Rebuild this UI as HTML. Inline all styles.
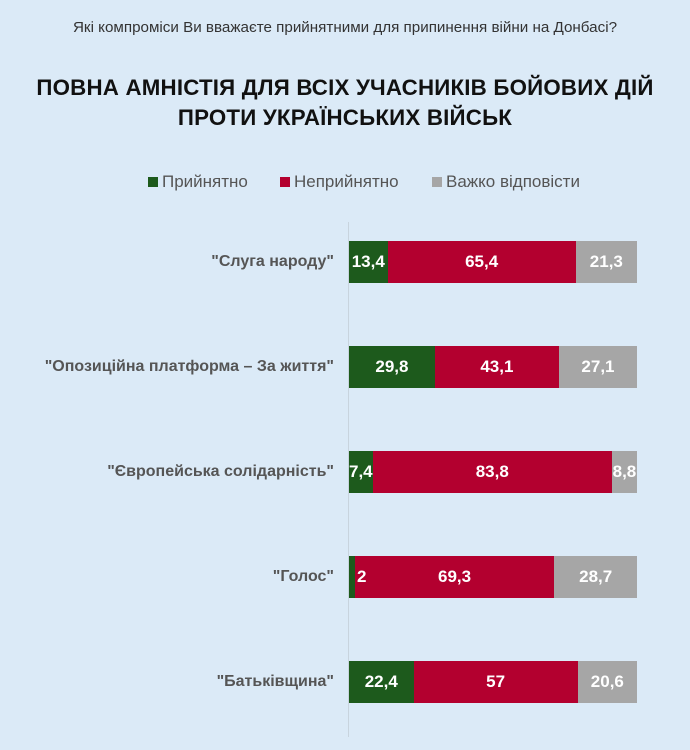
<!DOCTYPE html><html><head><meta charset="utf-8"><style>
body{margin:0;width:690px;height:750px;background:#dbeaf7;font-family:"Liberation Sans",sans-serif;position:relative;overflow:hidden}
.a{position:absolute}
.sub{top:19px;left:0;width:690px;text-align:center;font-size:15.2px;color:#333}
.t{top:73px;left:0;width:690px;text-align:center;font-size:22.3px;font-weight:bold;color:#111;line-height:30px;letter-spacing:0.2px}
.leg{top:172px;font-size:17px;color:#555}
.sq{display:inline-block;width:10px;height:10px;margin-right:4px}
.ax{left:348px;top:222px;width:1px;height:515px;background:#c8d4de}
.bar{left:349px;width:288px;height:42px;display:flex}
.bar div{color:#fff;font-weight:bold;font-size:17px;display:flex;align-items:center;justify-content:center;overflow:visible;white-space:nowrap}
.g{background:#1d5a1c}.r{background:#b3002f}.y{background:#a6a6a6}
.lab{right:356px;font-size:16px;font-weight:bold;color:#555;line-height:42px;white-space:nowrap}
</style></head><body>
<div class="a sub">Які компроміси Ви вважаєте прийнятними для припинення війни на Донбасі?</div>
<div class="a t">ПОВНА АМНІСТІЯ ДЛЯ ВСІХ УЧАСНИКІВ БОЙОВИХ ДІЙ<br>ПРОТИ УКРАЇНСЬКИХ ВІЙСЬК</div>
<div class="a leg" style="left:148px"><span class="sq g"></span>Прийнятно</div>
<div class="a leg" style="left:280px"><span class="sq r"></span>Неприйнятно</div>
<div class="a leg" style="left:432px"><span class="sq y"></span>Важко відповісти</div>
<div class="a ax"></div>

<div class="a lab" style="top:241px">"Слуга народу"</div>
<div class="a bar" style="top:241px"><div class="g" style="flex:13.4">13,4</div><div class="r" style="flex:65.4">65,4</div><div class="y" style="flex:21.3">21,3</div></div>

<div class="a lab" style="top:346px">"Опозиційна платформа – За життя"</div>
<div class="a bar" style="top:346px"><div class="g" style="flex:29.8">29,8</div><div class="r" style="flex:43.1">43,1</div><div class="y" style="flex:27.1">27,1</div></div>

<div class="a lab" style="top:451px">"Європейська солідарність"</div>
<div class="a bar" style="top:451px"><div class="g" style="flex:7.4">7,4</div><div class="r" style="flex:83.8">83,8</div><div class="y" style="flex:8.8">8,8</div></div>

<div class="a lab" style="top:556px">"Голос"</div>
<div class="a bar" style="top:556px"><div class="g" style="flex:2;position:relative"><span style="position:absolute;left:8px">2</span></div><div class="r" style="flex:69.3">69,3</div><div class="y" style="flex:28.7">28,7</div></div>

<div class="a lab" style="top:661px">"Батьківщина"</div>
<div class="a bar" style="top:661px"><div class="g" style="flex:22.4">22,4</div><div class="r" style="flex:57">57</div><div class="y" style="flex:20.6">20,6</div></div>
</body></html>
